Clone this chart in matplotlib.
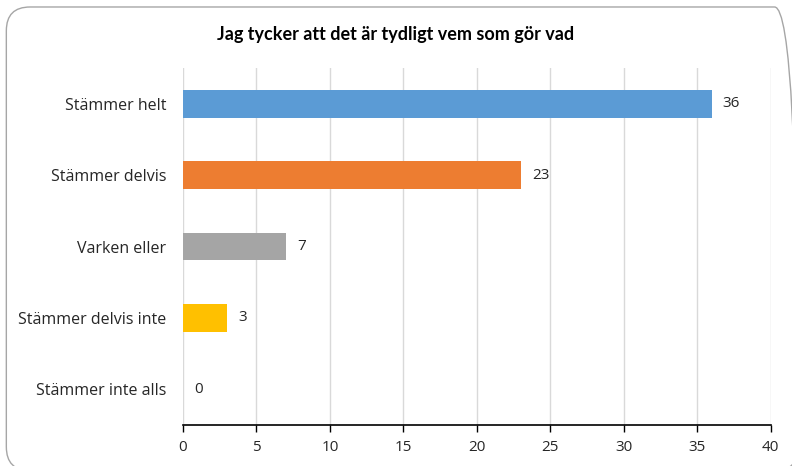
import matplotlib.pyplot as plt
from matplotlib.patches import FancyBboxPatch

categories = ["Stämmer helt", "Stämmer delvis", "Varken eller",
              "Stämmer delvis inte", "Stämmer inte alls"]
values = [36, 23, 7, 3, 0]
colors = ["#5B9BD5", "#ED7D31", "#A5A5A5", "#FFC000", "#4472C4"]
x_ticks = [0, 5, 10, 15, 20, 25, 30, 35, 40]
title = "Jag tycker att det är tydligt vem som gör vad"


def main():
    plt.rcParams['font.family'] = ['Open Sans', 'DejaVu Sans']
    fig = plt.figure(figsize=(7.92, 4.66), dpi=100)

    # rounded chart border (runs off the right/bottom edge like the source)
    border = FancyBboxPatch((0.008, -0.01), 1.0, 0.995,
                            boxstyle="round,pad=0,rounding_size=0.03",
                            transform=fig.transFigure, fill=False,
                            edgecolor="#A6A6A6", linewidth=1.0,
                            mutation_aspect=792 / 466)
    fig.patches.append(border)

    ax = fig.add_axes([0.2311, 0.088, 0.7418, 0.766])
    y = list(range(len(categories)))
    ax.barh(y, values, height=0.39, color=colors, zorder=3)
    for yi, v in zip(y, values):
        ax.text(v + 0.75, yi, str(v), va="center", ha="left",
                fontsize=11, color="#262626")

    ax.set_xlim(0, 40)
    ax.set_ylim(len(categories) - 0.5, -0.5)
    ax.set_xticks(x_ticks)
    ax.set_yticks(y)
    ax.set_yticklabels(categories)
    ax.tick_params(axis="x", direction="out", length=5, width=1,
                   colors="#000000", labelcolor="#262626", labelsize=11, pad=6)
    ax.tick_params(axis="y", length=0, labelcolor="#262626", labelsize=11.5, pad=12)
    ax.grid(axis="x", color="#D9D9D9", linewidth=1, zorder=0)
    for side in ["top", "right", "left"]:
        ax.spines[side].set_visible(False)
    ax.spines["bottom"].set_color("#000000")
    ax.spines["bottom"].set_linewidth(1.2)

    fig.text(0.5, 0.925, title, ha="center", va="center",
             fontsize=13, fontweight="bold", color="#000000",
             family=['Lato', 'DejaVu Sans'])

    fig.savefig("out.png", dpi=100)


if __name__ == "__main__":
    main()
